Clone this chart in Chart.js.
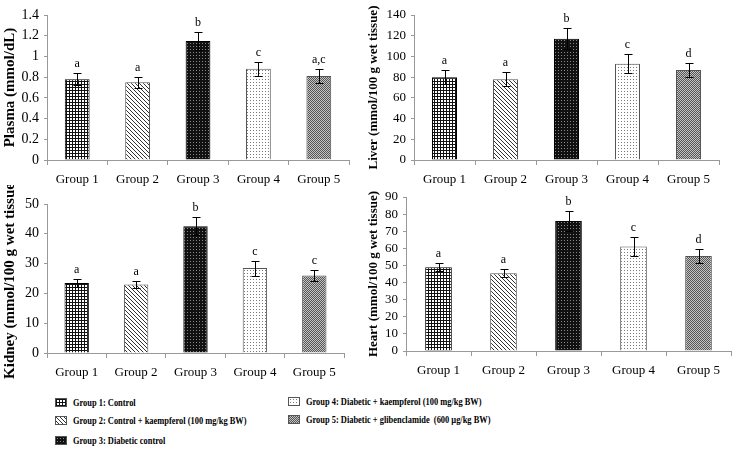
<!DOCTYPE html>
<html>
<head>
<meta charset="utf-8">
<script src="https://cdn.jsdelivr.net/npm/chart.js@4.4.0/dist/chart.umd.min.js"></script>
<style>
body { margin: 0; background: #fff; width: 733px; height: 449px; position: relative; overflow: hidden; }
canvas.panel { position: absolute; }
.leg { position: absolute; font: bold 10px "Liberation Serif", serif; color: #000; white-space: pre; display: flex; align-items: center; }
.leg canvas { margin-right: 6px; border: 1px solid #555; }
.leg span { display: inline-block; transform: scaleX(0.84); transform-origin: left center; }
</style>
</head>
<body>
<canvas class="panel" id="plasma" width="365" height="192" style="left:0;top:0"></canvas>
<canvas class="panel" id="liver" width="368" height="192" style="left:365px;top:0"></canvas>
<canvas class="panel" id="kidney" width="365" height="200" style="left:0;top:185px"></canvas>
<canvas class="panel" id="heart" width="368" height="200" style="left:365px;top:185px"></canvas>
<div id="legend"></div>
<script>
// data
const groups = ["Group 1", "Group 2", "Group 3", "Group 4", "Group 5"];
const legendLabels = [
    "Group 1: Control",
    "Group 2: Control + kaempferol (100 mg/kg BW)",
    "Group 3: Diabetic control",
    "Group 4: Diabetic + kaempferol (100 mg/kg BW)",
    "Group 5: Diabetic + glibenclamide  (600 µg/kg BW)"
];

const plasmaValues = [0.78, 0.75, 1.15, 0.88, 0.81];
const plasmaErrors = [0.06, 0.05, 0.09, 0.07, 0.07];
const plasmaLetters = ["a", "a", "b", "c", "a,c"];

const liverValues = [80, 78, 117, 93, 87];
const liverErrors = [7, 7, 10, 9, 7];
const liverLetters = ["a", "a", "b", "c", "d"];

const kidneyValues = [23.5, 23, 42.5, 28.5, 26];
const kidneyErrors = [1.5, 1.2, 3, 2.5, 2];
const kidneyLetters = ["a", "a", "b", "c", "c"];

const heartValues = [49, 45.5, 76, 61, 55.5];
const heartErrors = [2.5, 2.5, 6, 5.5, 4];
const heartLetters = ["a", "a", "b", "c", "d"];

// fill patterns, one per group
function makePattern(kind) {
    const c = document.createElement("canvas");
    const s = kind === "diag" ? 4 : (kind === "check" ? 2 : 3);
    c.width = s; c.height = s;
    const g = c.getContext("2d");
    if (kind === "grid") {
        g.fillStyle = "#fff"; g.fillRect(0, 0, s, s);
        g.fillStyle = "#111";
        g.fillRect(0, 0, s, 1); g.fillRect(0, 0, 1, s);
    } else if (kind === "diag") {
        g.fillStyle = "#fff"; g.fillRect(0, 0, s, s);
        g.fillStyle = "#333";
        for (let i = 0; i < s; i++) g.fillRect(i, i, 1, 1);
    } else if (kind === "dark") {
        g.fillStyle = "#111"; g.fillRect(0, 0, s, s);
        g.fillStyle = "#888"; g.fillRect(1, 1, 1, 1);
    } else if (kind === "dots") {
        g.fillStyle = "#fff"; g.fillRect(0, 0, s, s);
        g.fillStyle = "#777"; g.fillRect(1, 1, 1, 1);
    } else {
        g.fillStyle = "#c4c4c4"; g.fillRect(0, 0, s, s);
        g.fillStyle = "#555";
        g.fillRect(0, 0, 1, 1); g.fillRect(1, 1, 1, 1);
    }
    return c;
}
const patternKinds = ["grid", "diag", "dark", "dots", "check"];
const borderColors = ["#000", "#555", "#000", "#555", "#555"];
const tmp = document.createElement("canvas").getContext("2d");
const fills = patternKinds.map(k => tmp.createPattern(makePattern(k), "repeat"));

const errorBars = {
    id: "errorBars",
    afterDatasetsDraw(chart, args, opts) {
        const ctx = chart.ctx;
        const meta = chart.getDatasetMeta(0);
        const y = chart.scales.y;
        const vals = chart.data.datasets[0].data;
        ctx.save();
        ctx.strokeStyle = "#000";
        ctx.lineWidth = 1;
        ctx.fillStyle = "#000";
        ctx.font = "12px 'Liberation Serif'";
        ctx.textAlign = "center";
        meta.data.forEach((bar, i) => {
            const top = Math.round(y.getPixelForValue(vals[i] + opts.errors[i])) + 0.5;
            const bot = Math.round(y.getPixelForValue(vals[i] - opts.errors[i])) + 0.5;
            const x = Math.round(bar.x) + 0.5;
            ctx.beginPath();
            ctx.moveTo(x, top); ctx.lineTo(x, bot);
            ctx.moveTo(x - 4, top); ctx.lineTo(x + 4, top);
            ctx.moveTo(x - 4, bot); ctx.lineTo(x + 4, bot);
            ctx.stroke();
            ctx.fillText(opts.letters[i], bar.x, top - 7);
        });
        ctx.restore();
    }
};

function drawPanel(id, values, errors, letters, title, yMax, step, area, tickSize, titleSize) {
    const cv = document.getElementById(id);
    return new Chart(cv.getContext("2d"), {
        type: "bar",
        data: {
            labels: groups,
            datasets: [{
                data: values,
                backgroundColor: fills,
                borderColor: borderColors,
                borderWidth: 1,
                barPercentage: 0.41,
                categoryPercentage: 1
            }]
        },
        options: {
            responsive: false,
            animation: false,
            layout: {
                padding: {
                    left: 0,
                    top: area.top,
                    right: cv.width - area.right,
                    bottom: cv.height - area.bottom - 30
                }
            },
            plugins: {
                legend: { display: false },
                tooltip: { enabled: false },
                errorBars: { errors: errors, letters: letters }
            },
            scales: {
                x: {
                    afterFit: s => { s.height = 30; },
                    grid: { drawOnChartArea: false, tickLength: 5, color: "#999" },
                    border: { color: "#999" },
                    ticks: { color: "#000", padding: 7, font: { family: "Liberation Serif", size: 13 } }
                },
                y: {
                    min: 0,
                    max: yMax,
                    afterFit: s => { s.width = area.left; },
                    grid: { drawOnChartArea: false, tickLength: 3, color: "#999" },
                    border: { color: "#999" },
                    ticks: {
                        stepSize: step,
                        autoSkip: false,
                        maxTicksLimit: 20,
                        color: "#000",
                        padding: 5,
                        font: { family: "Liberation Serif", size: tickSize, lineHeight: 1 },
                        callback: v => String(+v.toFixed(1))
                    },
                    title: {
                        display: true,
                        text: title,
                        color: "#000",
                        padding: { top: 1, bottom: 0 },
                        font: { family: "Liberation Serif", size: titleSize, weight: "bold" }
                    }
                }
            }
        },
        plugins: [errorBars]
    });
}

drawPanel("plasma", plasmaValues, plasmaErrors, plasmaLetters, "Plasma (mmol/dL)", 1.4, 0.2,
    { left: 47, right: 349, top: 15, bottom: 160 }, 14, 15);
drawPanel("liver", liverValues, liverErrors, liverLetters, "Liver (mmol/100 g wet tissue)", 140, 20,
    { left: 49, right: 354, top: 15, bottom: 160 }, 13, 13);
drawPanel("kidney", kidneyValues, kidneyErrors, kidneyLetters, "Kidney (mmol/100 g wet tissue)", 50, 10,
    { left: 47, right: 344, top: 19, bottom: 168 }, 14, 15);
drawPanel("heart", heartValues, heartErrors, heartLetters, "Heart (mmol/100 g wet tissue)", 90, 10,
    { left: 41, right: 366, top: 12, bottom: 166 }, 13, 13);

// legend below the panels
const legendPos = [[55, 403], [55, 421], [55, 441], [288, 402], [288, 420]];
const legend = document.getElementById("legend");
legendLabels.forEach((txt, i) => {
    const d = document.createElement("div");
    d.className = "leg";
    d.style.left = legendPos[i][0] + "px";
    d.style.top = (legendPos[i][1] - 6) + "px";
    const sw = document.createElement("canvas");
    sw.width = 10; sw.height = 7;
    const g = sw.getContext("2d");
    g.fillStyle = g.createPattern(makePattern(patternKinds[i]), "repeat");
    g.fillRect(0, 0, 10, 7);
    const sp = document.createElement("span");
    sp.textContent = txt;
    d.appendChild(sw);
    d.appendChild(sp);
    legend.appendChild(d);
});
</script>
</body>
</html>
